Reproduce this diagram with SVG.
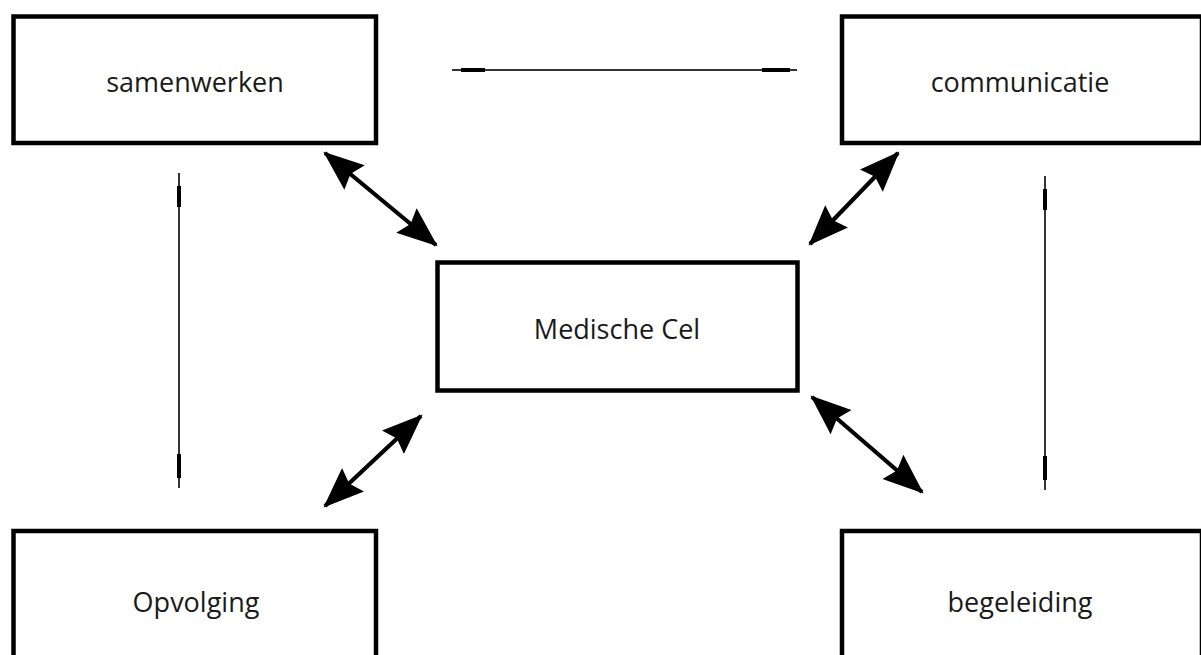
<svg xmlns="http://www.w3.org/2000/svg" width="1201" height="655" viewBox="0 0 1201 655">
<style>
.box{fill:#fff;stroke:#000;stroke-width:4.5}
.lbl{font-family:"Open Sans","Noto Sans",sans-serif;font-size:27px;fill:#1a1a1a;text-anchor:middle;dominant-baseline:central}
.thick{stroke:#000;stroke-width:4.2;fill:none;marker-start:url(#ah);marker-end:url(#ah)}
.thin{stroke:#333;stroke-width:2;fill:none}
.tip{stroke:#000;stroke-width:4}
</style>
<defs>
<marker id="ah" markerUnits="userSpaceOnUse" markerWidth="42" markerHeight="32" viewBox="0 0 38 30" refX="36" refY="15" orient="auto-start-reverse">
<path d="M0,0 L38,15 L0,30 L5,15 Z" fill="#000"/>
</marker>
</defs>
<rect width="1201" height="655" fill="#fff"/>
<g id="samenwerken"><rect class="box" x="13.5" y="16.5" width="362.5" height="126.5"/><text class="lbl" x="195" y="81">samenwerken</text></g>
<g id="communicatie"><rect class="box" x="842" y="16.5" width="360" height="126.5"/><text class="lbl" x="1020" y="81">communicatie</text></g>
<g id="medische-cel"><rect class="box" x="437.5" y="262.5" width="360" height="128"/><text class="lbl" x="617" y="328">Medische Cel</text></g>
<g id="opvolging"><rect class="box" x="13.5" y="531" width="362.5" height="140"/><text class="lbl" x="196" y="601">Opvolging</text></g>
<g id="begeleiding"><rect class="box" x="842" y="531" width="360" height="140"/><text class="lbl" x="1020" y="601">begeleiding</text></g>
<g id="connectors">
<line class="thin" x1="452" y1="70" x2="797" y2="70"/>
<line class="tip" x1="461" y1="70" x2="485" y2="70"/>
<line class="tip" x1="762" y1="70" x2="790" y2="70"/>
<line class="thin" x1="179" y1="173" x2="179" y2="488"/>
<line class="tip" x1="179" y1="186" x2="179" y2="207"/>
<line class="tip" x1="179" y1="454" x2="179" y2="478"/>
<line class="thin" x1="1045" y1="176" x2="1045" y2="490"/>
<line class="tip" x1="1045" y1="189" x2="1045" y2="210"/>
<line class="tip" x1="1045" y1="456" x2="1045" y2="480"/>
<line class="thick" x1="325" y1="153" x2="436" y2="245"/>
<line class="thick" x1="898" y1="153" x2="810" y2="244"/>
<line class="thick" x1="421" y1="416" x2="325" y2="506"/>
<line class="thick" x1="812" y1="397" x2="922" y2="492"/>
</g>
</svg>
